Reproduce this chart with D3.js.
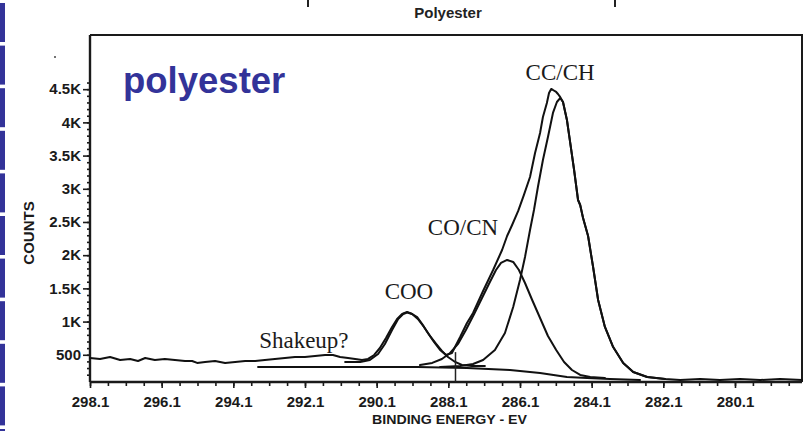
<!DOCTYPE html>
<html>
<head>
<meta charset="utf-8">
<script src="https://cdn.jsdelivr.net/npm/d3@7"></script>
<style>
  html, body { margin: 0; padding: 0; background: #fff; }
  svg { display: block; }
  .axis text { font-family: "Liberation Sans", Arial, sans-serif; font-weight: bold; font-size: 15px; fill: #1a1a1a; }
  .axis line { stroke: #1a1a1a; stroke-width: 1.6; }
  .axis path { stroke: #1a1a1a; stroke-width: 2.4; }
  .trace { fill: none; stroke: #111; stroke-width: 2; stroke-linejoin: round; stroke-linecap: round; }
  .note { font-family: "Liberation Serif", "Times New Roman", serif; font-size: 23px; fill: #1a1a1a; }
</style>
</head>
<body>
<svg id="chart" width="805" height="431"></svg>
<script>
// XPS C1s spectrum of polyester: raw envelope, three fitted components and
// the background (binding energy in eV, counts).

const envEV = [298.10, 297.82, 297.54, 297.26, 296.98, 296.76, 296.56, 296.29, 296.01, 295.73,
  295.45, 295.25, 295.11, 294.89, 294.61, 294.33, 294.05, 293.77, 293.49, 293.22,
  292.94, 292.66, 292.38, 292.10, 291.82, 291.54, 291.32, 291.12, 290.90, 290.70,
  290.51, 290.34, 290.17, 290.01, 289.84, 289.67, 289.53, 289.39, 289.25, 289.11,
  288.97, 288.83, 288.67, 288.50, 288.33, 288.16, 288.00, 287.77, 287.58, 287.41,
  287.13, 286.85, 286.60, 286.46, 286.32, 286.15, 285.99, 285.82, 285.68, 285.54,
  285.46, 285.35, 285.29, 285.23, 285.18, 285.09, 285.04, 284.98, 284.90, 284.79,
  284.71, 284.59, 284.48, 284.42, 284.34, 284.20, 284.06, 283.92, 283.73, 283.50,
  283.22, 282.94, 282.55, 282.05, 281.63, 281.07, 280.52, 279.96, 279.40, 278.84, 278.23];
const envCounts = [452, 437, 467, 422, 437, 407, 452, 422, 437, 422,
  407, 407, 377, 392, 407, 377, 392, 407, 407, 422,
  437, 452, 467, 467, 482, 497, 497, 467, 452, 437,
  422, 437, 497, 602, 753, 919, 1039, 1114, 1145, 1114,
  1069, 964, 828, 694, 572, 497, 527, 768, 979, 1130,
  1461, 1777, 2078, 2289, 2455, 2666, 2907, 3178, 3539, 3840,
  4081, 4292, 4443, 4503, 4488, 4458, 4428, 4383, 4307, 4036,
  3735, 3283, 2831, 2756, 2560, 2289, 1822, 1325, 919, 617,
  377, 241, 166, 136, 120, 136, 120, 136, 120, 136, 120];

// CC/CH component
const ccEV = [288.33, 287.77, 287.41, 287.13, 286.80, 286.52, 286.29, 286.10, 285.96, 285.82,
  285.71, 285.60, 285.46, 285.32, 285.18, 285.07, 284.98, 284.90, 284.79, 284.71,
  284.59, 284.48, 284.42, 284.34, 284.20, 284.06, 283.92, 283.73, 283.50, 283.22,
  282.94, 282.55, 282.05];
const ccCounts = [316, 331, 361, 422, 572, 828, 1220, 1626, 1973, 2379,
  2681, 3027, 3434, 3780, 4142, 4307, 4367, 4307, 4036, 3735,
  3283, 2831, 2756, 2560, 2289, 1822, 1325, 919, 617, 377,
  241, 166, 136];

// CO/CN component
const coEV = [288.89, 288.55, 288.28, 288.05, 287.83, 287.61, 287.38, 287.16, 286.94, 286.77,
  286.63, 286.46, 286.29, 286.13, 285.96, 285.76, 285.54, 285.32, 285.09, 284.87,
  284.65, 284.42, 284.14, 283.73];
const coCounts = [346, 377, 437, 527, 663, 873, 1114, 1355, 1596, 1777,
  1883, 1928, 1898, 1777, 1581, 1325, 1054, 783, 572, 392,
  271, 196, 166, 151];

// COO component
const cooEV = [290.98, 290.56, 290.29, 290.06, 289.87, 289.67, 289.50, 289.36, 289.25, 289.11,
  288.95, 288.78, 288.61, 288.44, 288.28, 288.11, 287.91, 287.72, 287.44, 287.08];
const cooCounts = [392, 392, 422, 512, 663, 873, 1039, 1114, 1137, 1114,
  1039, 919, 783, 663, 557, 467, 392, 346, 331, 331];

// background
const bgEV = [293.41, 288.97, 287.58, 286.38, 285.54, 284.79, 284.23, 283.59, 282.75];
const bgCounts = [316, 316, 301, 271, 226, 166, 151, 136, 120];

// vertical marker
const markerEV = 287.9;
const markerTop = 540;

const xMajor = [298.1, 296.1, 294.1, 292.1, 290.1, 288.1, 286.1, 284.1, 282.1, 280.1];
const yMajor = [500, 1000, 1500, 2000, 2500, 3000, 3500, 4000, 4500];
const yLabels = ["500", "1K", "1.5K", "2K", "2.5K", "3K", "3.5K", "4K", "4.5K"];

const notes = ["CC/CH", "CO/CN", "COO", "Shakeup?"];
const noteEV = [284.98, 287.69, 289.20, 293.38];
const noteCounts = [4638, 2304, 1340, 602];

const svg = d3.select("#chart");
const mLeft = 90, mRight = 802, mTop = 35, mBottom = 382;

const x = d3.scaleLinear().domain([298.1, 278.23]).range([mLeft, mRight]);
const y = d3.scaleLinear().domain([90, 5316]).range([mBottom, mTop]);

// slide decoration: segmented blue bar on the left edge
svg.append("g").selectAll("rect")
  .data(d3.range(0, 11))
  .join("rect")
  .attr("x", 0).attr("width", 5)
  .attr("y", (i) => 3 + i * 42.6)
  .attr("height", 39)
  .attr("fill", "#333399");

// scan artefacts at the top
svg.append("g").selectAll("line")
  .data([308, 615])
  .join("line")
  .attr("x1", (d) => d).attr("x2", (d) => d)
  .attr("y1", 0).attr("y2", 7)
  .attr("stroke", "#222").attr("stroke-width", 2);
svg.append("circle").attr("cx", 55).attr("cy", 57).attr("r", 1).attr("fill", "#444");

// frame (top + right)
svg.append("path")
  .attr("d", `M${mLeft},${mTop}H${mRight}V${mBottom}`)
  .attr("fill", "none").attr("stroke", "#1a1a1a").attr("stroke-width", 2);

// y axis: minor then major
svg.append("g").attr("class", "axis")
  .attr("transform", `translate(${mLeft},0)`)
  .call(d3.axisLeft(y).tickValues(d3.range(200, 4700, 100)).tickSize(3).tickFormat(""))
  .call((g) => g.select(".domain").remove());
svg.append("g").attr("class", "axis")
  .attr("transform", `translate(${mLeft},0)`)
  .call(d3.axisLeft(y).tickValues(yMajor).tickSize(7).tickPadding(2)
    .tickFormat((d, i) => yLabels[i]))
  .call((g) => g.select(".domain").attr("d", `M0,${mTop}V${mBottom}`));

// x axis: minor then major
svg.append("g").attr("class", "axis")
  .attr("transform", `translate(0,${mBottom})`)
  .call(d3.axisBottom(x).tickValues(d3.range(298.1, 278.3, -0.5)).tickSize(4).tickFormat(""))
  .call((g) => g.select(".domain").remove());
svg.append("g").attr("class", "axis")
  .attr("transform", `translate(0,${mBottom})`)
  .call(d3.axisBottom(x).tickValues(xMajor).tickSize(6).tickPadding(8).tickFormat(d3.format(".1f")))
  .call((g) => g.select(".domain").attr("d", `M${mLeft},0H${mRight}`));

// traces
const line = (ev, ct) => d3.line().x((i) => x(ev[i])).y((i) => y(ct[i]))(d3.range(ev.length));
const traces = svg.append("g");
[[bgEV, bgCounts], [cooEV, cooCounts], [coEV, coCounts], [ccEV, ccCounts], [envEV, envCounts]]
  .forEach(([ev, ct]) => traces.append("path").attr("class", "trace").attr("d", line(ev, ct)));

traces.append("line")
  .attr("x1", x(markerEV)).attr("x2", x(markerEV))
  .attr("y1", y(90)).attr("y2", y(markerTop))
  .attr("stroke", "#222").attr("stroke-width", 1.5);

// peak annotations
svg.append("g").selectAll("text")
  .data(notes)
  .join("text")
  .attr("class", "note")
  .attr("x", (d, i) => x(noteEV[i]))
  .attr("y", (d, i) => y(noteCounts[i]))
  .attr("text-anchor", (d, i) => (i === 3 ? "start" : "middle"))
  .text((d) => d);

// titles
svg.append("text")
  .attr("x", 448).attr("y", 18)
  .attr("text-anchor", "middle")
  .style("font", "bold 15px 'Liberation Sans', Arial, sans-serif")
  .attr("fill", "#222")
  .text("Polyester");

svg.append("text")
  .attr("x", 123).attr("y", 93)
  .style("font", "bold 36.5px 'Liberation Sans', Arial, sans-serif")
  .attr("fill", "#333399")
  .text("polyester");

svg.append("text")
  .attr("transform", "translate(34,233) rotate(-90)")
  .attr("text-anchor", "middle")
  .style("font", "bold 15px 'Liberation Sans', Arial, sans-serif")
  .attr("fill", "#1a1a1a")
  .text("COUNTS");

svg.append("text")
  .attr("x", 372).attr("y", 424)
  .attr("textLength", 155).attr("lengthAdjust", "spacingAndGlyphs")
  .style("font", "bold 12.5px 'Liberation Sans', Arial, sans-serif")
  .attr("fill", "#1a1a1a")
  .text("BINDING ENERGY - EV");
</script>
</body>
</html>
